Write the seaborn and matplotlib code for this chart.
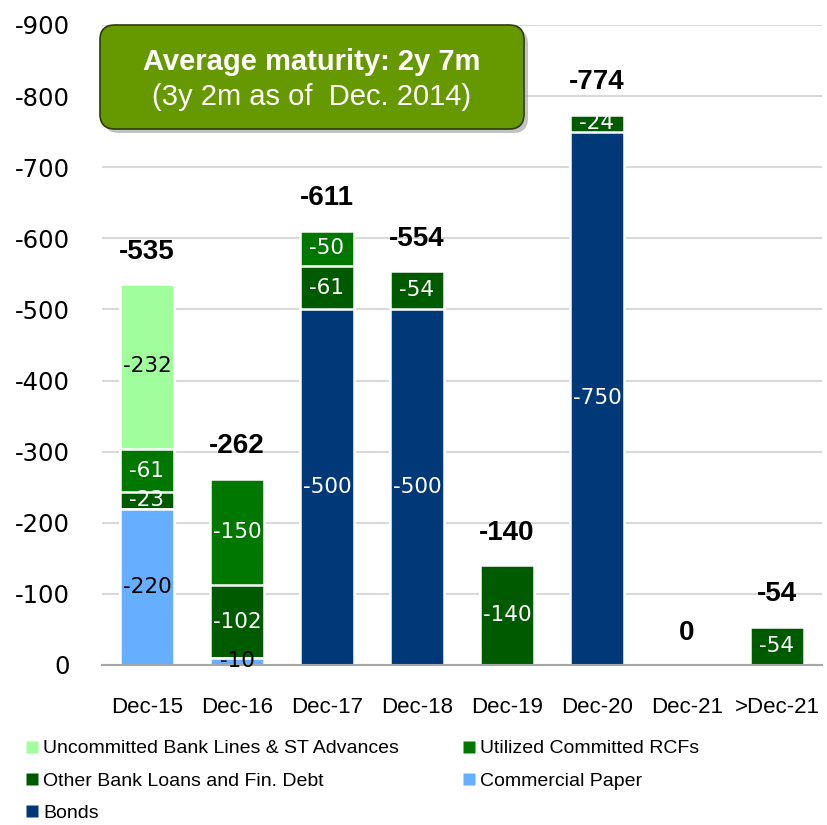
import numpy as np
import pandas as pd
import matplotlib
matplotlib.use("Agg")
import matplotlib.pyplot as plt
import seaborn as sns
from matplotlib.lines import Line2D
from matplotlib.patches import FancyBboxPatch

# data (EUR m, negative = maturities)
periods = ["Dec-15", "Dec-16", "Dec-17", "Dec-18", "Dec-19", "Dec-20", "Dec-21", ">Dec-21"]
commercial_paper = [-220, -10, 0, 0, 0, 0, 0, 0]
bonds = [0, 0, -500, -500, 0, -750, 0, 0]
other_bank_loans = [-23, -102, -61, -54, -140, -24, 0, -54]
utilized_rcfs = [-61, -150, -50, 0, 0, 0, 0, 0]
uncommitted_lines = [-232, 0, 0, 0, 0, 0, 0, 0]
totals = [-535, -262, -611, -554, -140, -774, 0, -54]

layers = [
    ("Commercial Paper", commercial_paper, "#66AEFF", "black"),
    ("Bonds", bonds, "#003878", "white"),
    ("Other Bank Loans and Fin. Debt", other_bank_loans, "#005A00", "white"),
    ("Utilized Committed RCFs", utilized_rcfs, "#007800", "white"),
    ("Uncommitted Bank Lines & ST Advances", uncommitted_lines, "#A0FF9C", "black"),
]

sns.set_style("white")
plt.rcParams["font.family"] = ["DejaVu Sans"]
plt.rcParams["axes.unicode_minus"] = False
plt.rcParams["text.color"] = "black"
plt.rcParams["xtick.color"] = "black"
plt.rcParams["ytick.color"] = "black"
plt.rcParams["xtick.labelcolor"] = "black"
plt.rcParams["ytick.labelcolor"] = "black"
plt.rcParams["legend.labelcolor"] = "black"
narrow = ["Liberation Sans Narrow", "Liberation Sans", "DejaVu Sans"]

fig = plt.figure(figsize=(8.27, 8.25), dpi=100)
ax = fig.add_axes([102 / 827, 1 - 665 / 825, 720 / 827, 640 / 825])

# cumulative tops for each layer, drawn from the top layer down
cum = np.zeros(len(periods))
tops = []
for name, vals, color, tcolor in layers:
    bottom = cum.copy()
    cum = cum + np.array(vals)
    tops.append((name, bottom, cum.copy(), vals, color, tcolor))

for name, bottom, top, vals, color, tcolor in reversed(tops):
    df = pd.DataFrame({"period": periods, "value": top})
    sns.barplot(data=df, x="period", y="value", order=periods, color=color,
                width=0.6, edgecolor="white", linewidth=1.8, errorbar=None,
                saturation=1, ax=ax, zorder=2)

# segment labels
for name, bottom, top, vals, color, tcolor in tops:
    for i, v in enumerate(vals):
        if v != 0:
            ax.text(i, (bottom[i] + top[i]) / 2, f"{v}", ha="center", va="center",
                    fontsize=15.5, color=tcolor, zorder=5)

# totals
for i, t in enumerate(totals):
    ax.annotate(f"{t}", (i, t), xytext=(0, 14),
                textcoords="offset points", ha="center", va="bottom", color="black",
                fontsize=20, fontweight="bold", family=narrow, zorder=5)

ax.set_ylim(0, -900)
ax.set_yticks(np.arange(0, -901, -100))
ax.set_xlim(-0.5, len(periods) - 0.5)
ax.yaxis.grid(True, color="#D9D9D9", linewidth=1.5)
ax.xaxis.grid(False)
ax.set_axisbelow(True)
for s in ["top", "right", "left"]:
    ax.spines[s].set_visible(False)
ax.spines["bottom"].set_color("#A6A6A6")
ax.spines["bottom"].set_linewidth(1.5)
ax.set_xticks(np.arange(-0.5, len(periods)), minor=True)
ax.tick_params(axis="x", which="minor", length=6, width=1.5, color="#A6A6A6", direction="out")
ax.tick_params(axis="x", which="major", length=0, pad=23, labelsize=16)
ax.tick_params(axis="y", length=0, pad=23, labelsize=17.5)
for lbl in ax.get_xticklabels():
    lbl.set_family(narrow)
ax.set_xlabel("")
ax.set_ylabel("")

# maturity box with shadow
shadow = FancyBboxPatch((104 / 827, 1 - 133 / 825), 424 / 827, 104 / 825,
                        boxstyle="round,pad=0,rounding_size=0.018",
                        transform=fig.transFigure, facecolor="#9A9A9A",
                        edgecolor="none", alpha=0.6, zorder=10)
box = FancyBboxPatch((100 / 827, 1 - 129 / 825), 424 / 827, 104 / 825,
                     boxstyle="round,pad=0,rounding_size=0.018",
                     transform=fig.transFigure, facecolor="#669900",
                     edgecolor="#2E3A10", linewidth=1.2, zorder=11)
fig.patches.extend([shadow, box])
fig.text(312 / 827, 1 - 62 / 825, "Average maturity: 2y 7m", ha="center", va="center",
         color="white", fontsize=21, fontweight="bold", family="Liberation Sans", zorder=12)
fig.text(312 / 827, 1 - 97 / 825, "(3y 2m as of  Dec. 2014)", ha="center", va="center",
         color="white", fontsize=21, family="Liberation Sans", zorder=12)

# legend in two columns
colors = {name: color for name, vals, color, tc in layers}

def handle(name):
    return Line2D([], [], marker="s", linestyle="none", markersize=8,
                  markerfacecolor=colors[name], markeredgecolor="none", label=name)

left = ["Uncommitted Bank Lines & ST Advances", "Other Bank Loans and Fin. Debt", "Bonds"]
right = ["Utilized Committed RCFs", "Commercial Paper"]
for names, x in [(left, 18 / 827), (right, 455 / 827)]:
    fig.legend(handles=[handle(n) for n in names], loc="upper left",
               bbox_to_anchor=(x, 1 - 732 / 825), frameon=False,
               prop={"family": narrow, "size": 14}, handlelength=0.6,
               handletextpad=0.3, labelspacing=0.75, borderaxespad=0)

fig.savefig("out.png", dpi=100)
